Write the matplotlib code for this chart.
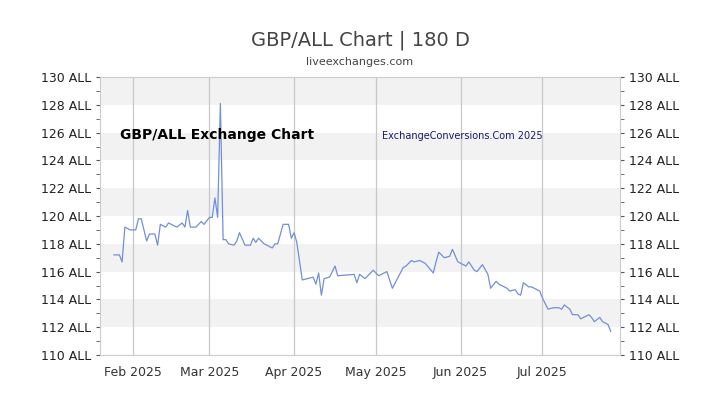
import matplotlib
matplotlib.use("Agg")
import matplotlib.pyplot as plt
import pandas as pd
from matplotlib.ticker import MultipleLocator, FuncFormatter

day_of_year = [24,26,27,28,30,32,33,34,36,37,39,40,41,43,44,47,49,50,51,52,54,56,57,59,60,61,62,63,64,65,66,68,69,70,72,74,75,76,77,79,82,83,84,86,88,89,90,91,93,97,98,99,100,101,103,105,106,112,113,114,116,119,120,121,124,126,130,131,133,134,136,138,141,142,143,145,147,148,150,151,153,154,156,157,159,161,162,164,165,168,169,171,172,173,174,176,177,180,181,183,185,187,188,189,191,192,194,195,198,199,200,202,203,205,206]
rates = [117.2,117.2,116.7,119.2,119.0,119.0,119.8,119.8,118.2,118.7,118.7,117.9,119.4,119.2,119.5,119.2,119.5,119.2,120.4,119.2,119.2,119.6,119.4,119.9,119.9,121.3,119.9,128.1,118.3,118.3,118.0,117.9,118.2,118.8,117.9,117.9,118.4,118.1,118.4,118.0,117.7,118.0,118.0,119.4,119.4,118.4,118.8,118.1,115.4,115.6,115.1,115.9,114.3,115.5,115.6,116.4,115.7,115.8,115.2,115.8,115.5,116.1,115.9,115.7,116.0,114.8,116.3,116.4,116.8,116.7,116.8,116.6,115.9,116.7,117.4,117.0,117.1,117.6,116.7,116.6,116.4,116.7,116.1,116.0,116.5,115.8,114.8,115.3,115.1,114.8,114.6,114.7,114.4,114.3,115.2,114.9,114.9,114.6,114.1,113.3,113.4,113.4,113.3,113.6,113.3,112.9,112.9,112.6,112.9,112.7,112.4,112.7,112.4,112.2,111.7]
month_labels = ["Feb 2025","Mar 2025","Apr 2025","May 2025","Jun 2025","Jul 2025"]
month_starts = ["2025-02-01","2025-03-01","2025-04-01","2025-05-01","2025-06-01","2025-07-01"]

base = pd.Timestamp("2025-01-01")
dates = [base + pd.Timedelta(days=d) for d in day_of_year]

fig = plt.figure(figsize=(7.2, 4.05), dpi=100)
ax = fig.add_axes([100/720, 1-355/405, 520/720, 278/405])
for lo in range(112, 130, 4):
    ax.axhspan(lo, lo+2, color="#f2f2f2", zorder=0, lw=0)
ms = pd.to_datetime(month_starts)
for m in ms:
    ax.axvline(m, color="#c8c8c8", lw=0.9, zorder=1)
ax.plot(dates, rates, color="#7090d8", lw=0.9, zorder=3)
ax.set_ylim(110, 130)
ax.set_xlim(base + pd.Timedelta(days=18.9), base + pd.Timedelta(days=209.4))
ax.yaxis.set_major_locator(MultipleLocator(2))
ax.yaxis.set_minor_locator(MultipleLocator(1))
ax.set_xticks(ms)
ax.set_xticklabels(month_labels, fontsize=9, color="#333333")
ax.tick_params(axis="x", length=0, pad=8)
ax.tick_params(axis="y", which="both", left=True, right=True, labelleft=True, labelright=True,
               labelsize=9, labelcolor="#222222", color="#555555", length=3, direction="out")
ax.yaxis.set_major_formatter(FuncFormatter(lambda v, p: f"{int(v)} ALL"))
for s in ax.spines.values():
    s.set_color("#cccccc")
fig.text(120/720, 1-135/405, "GBP/ALL Exchange Chart", fontsize=10, fontweight="bold",
         color="black", va="center", ha="left")
fig.text(382/720, 1-136/405, "ExchangeConversions.Com 2025", fontsize=7, color="#1a1a6e",
         va="center", ha="left")
fig.text(0.5, 1-40/405, "GBP/ALL Chart | 180 D", fontsize=14, color="#444444", ha="center", va="center")
fig.text(0.5, 1-62/405, "liveexchanges.com", fontsize=8, color="#444444", ha="center", va="center")
fig.savefig("out.png", dpi=100)
